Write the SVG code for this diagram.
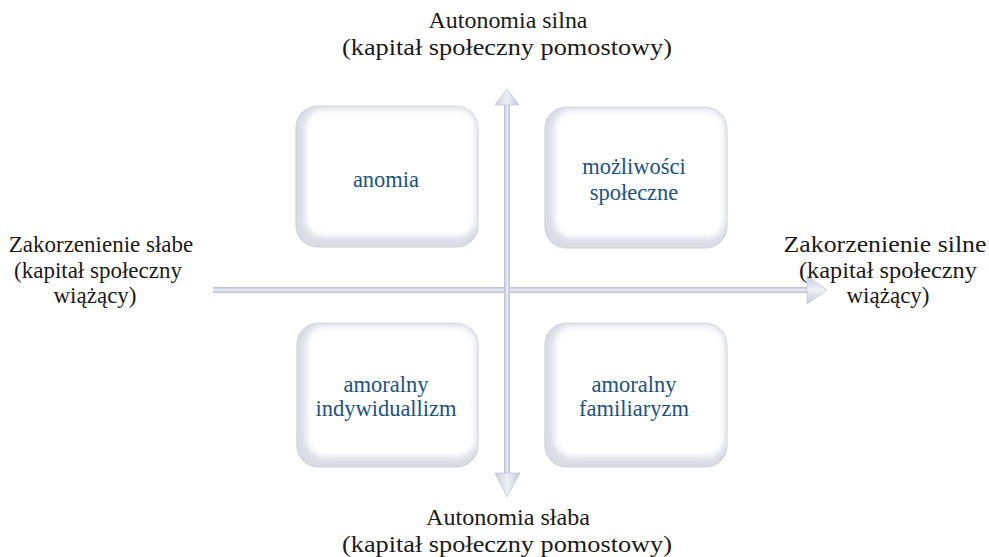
<svg xmlns="http://www.w3.org/2000/svg" width="989" height="557" viewBox="0 0 989 557">
  <defs>
    <style>
      .lbl { font-family: "Liberation Serif", "Times New Roman", serif; font-size: 23px; fill: #1a1a1a; text-anchor: middle; }
      .nt { font-family: "Liberation Serif", "Times New Roman", serif; font-size: 22.5px; fill: #21527f; text-anchor: middle; }
      .rim { fill: #d9dce5; stroke: #cdd0d9; stroke-width: 1.2; }
      .face { fill: #ffffff; filter: url(#soft); }
    </style>
    <filter id="soft" x="-10%" y="-10%" width="120%" height="120%">
      <feGaussianBlur stdDeviation="3.2"/>
    </filter>
    <linearGradient id="shaftV" x1="0" y1="0" x2="1" y2="0">
      <stop offset="0" stop-color="#b6bacd"/>
      <stop offset="0.5" stop-color="#eceef6"/>
      <stop offset="1" stop-color="#b6bacd"/>
    </linearGradient>
    <linearGradient id="shaftH" x1="0" y1="0" x2="0" y2="1">
      <stop offset="0" stop-color="#b6bacd"/>
      <stop offset="0.5" stop-color="#eceef6"/>
      <stop offset="1" stop-color="#b6bacd"/>
    </linearGradient>
    <linearGradient id="headV" x1="0" y1="0" x2="1" y2="0">
      <stop offset="0" stop-color="#c9ccdc"/>
      <stop offset="0.5" stop-color="#eef0f7"/>
      <stop offset="1" stop-color="#c2c6d7"/>
    </linearGradient>
    <linearGradient id="headH" x1="0" y1="0" x2="0" y2="1">
      <stop offset="0" stop-color="#c9ccdc"/>
      <stop offset="0.5" stop-color="#eef0f7"/>
      <stop offset="1" stop-color="#c2c6d7"/>
    </linearGradient>
  </defs>

  <rect width="989" height="557" fill="#ffffff"/>

  <!-- axes -->
  <g id="connectors">
    <rect x="213" y="287" width="597" height="6" fill="url(#shaftH)"/>
    <polygon points="807,276 827,290 807,304" fill="url(#headH)" stroke="#c4c8d8" stroke-width="0.8"/>
    <rect x="504" y="104" width="6" height="370" fill="url(#shaftV)"/>
    <polygon points="495,105 507,89 519,105" fill="url(#headV)" stroke="#c4c8d8" stroke-width="0.8"/>
    <polygon points="495,473 507,497 520,473" fill="url(#headV)" stroke="#c4c8d8" stroke-width="0.8"/>
  </g>

  <!-- quadrant boxes -->
  <g id="anomia">
    <rect class="rim" x="296" y="106" width="182" height="141" rx="22"/>
    <rect class="face" x="305" y="109" width="171" height="128" rx="18"/>
    <text class="nt" x="386" y="187">anomia</text>
  </g>
  <g id="mozliwosci">
    <rect class="rim" x="545" y="107" width="182" height="141" rx="22"/>
    <rect class="face" x="554" y="110" width="171" height="128" rx="18"/>
    <text class="nt" x="634" y="174">możliwości</text>
    <text class="nt" x="634" y="200">społeczne</text>
  </g>
  <g id="indywidualizm">
    <rect class="rim" x="297" y="323" width="181" height="144" rx="22"/>
    <rect class="face" x="306" y="326" width="170" height="131" rx="18"/>
    <text class="nt" x="386" y="392">amoralny</text>
    <text class="nt" x="386" y="416">indywiduallizm</text>
  </g>
  <g id="familiaryzm">
    <rect class="rim" x="545" y="323" width="182" height="144" rx="22"/>
    <rect class="face" x="554" y="326" width="171" height="131" rx="18"/>
    <text class="nt" x="634" y="392">amoralny</text>
    <text class="nt" x="634" y="416">familiaryzm</text>
  </g>

  <!-- axis labels -->
  <g id="top-label">
    <text class="lbl" x="508" y="28" textLength="159" lengthAdjust="spacingAndGlyphs">Autonomia silna</text>
    <text class="lbl" x="507" y="55" textLength="330" lengthAdjust="spacingAndGlyphs">(kapitał społeczny pomostowy)</text>
  </g>
  <g id="bottom-label">
    <text class="lbl" x="508" y="525" textLength="164" lengthAdjust="spacingAndGlyphs">Autonomia słaba</text>
    <text class="lbl" x="507" y="552" textLength="330" lengthAdjust="spacingAndGlyphs">(kapitał społeczny pomostowy)</text>
  </g>
  <g id="left-label">
    <text class="lbl" x="101" y="252">Zakorzenienie słabe</text>
    <text class="lbl" x="98" y="278">(kapitał społeczny</text>
    <text class="lbl" x="95" y="303">wiążący)</text>
  </g>
  <g id="right-label">
    <text class="lbl" x="885" y="252" textLength="203" lengthAdjust="spacingAndGlyphs">Zakorzenienie silne</text>
    <text class="lbl" x="888" y="278" textLength="178" lengthAdjust="spacingAndGlyphs">(kapitał społeczny</text>
    <text class="lbl" x="888" y="303">wiążący)</text>
  </g>
</svg>
